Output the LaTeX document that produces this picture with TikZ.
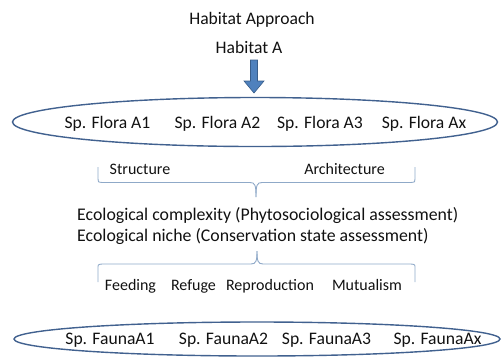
\documentclass[tikz,border=0pt]{standalone}
\usepackage{fontspec}
\setmainfont{Carlito}
\usetikzlibrary{shapes.geometric}
\definecolor{ellblue}{HTML}{41618F}
\definecolor{arrfill}{HTML}{4F81BD}
\definecolor{arrline}{HTML}{385D8A}
\definecolor{bracec}{HTML}{8FA9C8}
\definecolor{txt}{HTML}{111111}
\tikzset{
  big/.style={font=\fontsize{17.6}{19}\selectfont, text=txt, inner sep=0pt},
  small/.style={font=\fontsize{16}{18}\selectfont, text=txt, inner sep=0pt},
  eco/.style={font=\fontsize{17.8}{19}\selectfont, text=txt, inner sep=0pt, anchor=west},
  sp/.style={ellipse, draw=ellblue, line width=1.4pt, inner sep=0pt},
  bracepath/.style={draw=bracec, line width=0.9pt},
}
\begin{document}
\begin{tikzpicture}[x=1pt,y=-1pt]
\useasboundingbox (0,0) rectangle (503,360);
\node[big] (title) at (252,20) {Habitat Approach};
\node[big] (hab) at (249,47) {Habitat A};
\coordinate (arrtop) at (254,60);
\coordinate (arrtip) at (254,93);
\filldraw[fill=arrfill, draw=arrline, line width=0.6pt, line join=miter]
  ([xshift=-3.5pt]arrtop) -- ([xshift=3.5pt]arrtop) -- ([xshift=3.5pt,yshift=12pt]arrtip)
  -- ([xshift=10pt,yshift=12pt]arrtip) -- (arrtip) -- ([xshift=-10pt,yshift=12pt]arrtip)
  -- ([xshift=-3.5pt,yshift=12pt]arrtip) -- cycle;
\node[sp, minimum width=485pt, minimum height=49pt] (flora) at (255,122) {};
\node[big] (f1) at (107.5,124) {Sp. Flora A1};
\node[big] (f2) at (217.5,124) {Sp. Flora A2};
\node[big] (f3) at (320,124) {Sp. Flora A3};
\node[big] (f4) at (424,124) {Sp. Flora Ax};
% upper brace
\coordinate (b1l) at (98,167);
\coordinate (b1r) at (415,167);
\coordinate (b1t) at (256,197);
\draw[bracepath] (b1l) -- (98,179) .. controls (98,182) .. (102,182.5) -- (250,182.5)
  .. controls (255,182.5) and (256,185) .. (b1t);
\draw[bracepath] (b1r) -- (415,179) .. controls (415,182) .. (411,182.5) -- (262,182.5)
  .. controls (257,182.5) and (256,185) .. (b1t);
\node[small] (s1) at (140,169) {Structure};
\node[small] (s2) at (344.5,169) {Architecture};
\node[eco] (e1) at (77,216) {Ecological complexity (Phytosociological assessment)};
\node[eco] (e2) at (77,237) {Ecological niche (Conservation state assessment)};
% lower brace
\coordinate (b2l) at (98,282);
\coordinate (b2r) at (415,282);
\coordinate (b2t) at (257,251);
\draw[bracepath] (b2l) -- (98,268) .. controls (98,264.5) .. (102,264) -- (251,264)
  .. controls (256,264) and (257,261) .. (b2t);
\draw[bracepath] (b2r) -- (415,268) .. controls (415,264.5) .. (411,264) -- (263,264)
  .. controls (258,264) and (257,261) .. (b2t);
\node[small, anchor=base] (n1) at (130.5,290) {Feeding};
\node[small, anchor=base] (n2) at (193.5,290) {Refuge};
\node[small, anchor=base] (n3) at (270,290) {Reproduction};
\node[small, anchor=base] (n4) at (367,290) {Mutualism};
\node[sp, minimum width=486pt, minimum height=34pt] (fauna) at (257,339) {};
\node[big] (a1) at (110,340) {Sp. FaunaA1};
\node[big] (a2) at (223.5,340) {Sp. FaunaA2};
\node[big] (a3) at (326.5,340) {Sp. FaunaA3};
\node[big] (a4) at (437.5,340) {Sp. FaunaAx};
\end{tikzpicture}
\end{document}
